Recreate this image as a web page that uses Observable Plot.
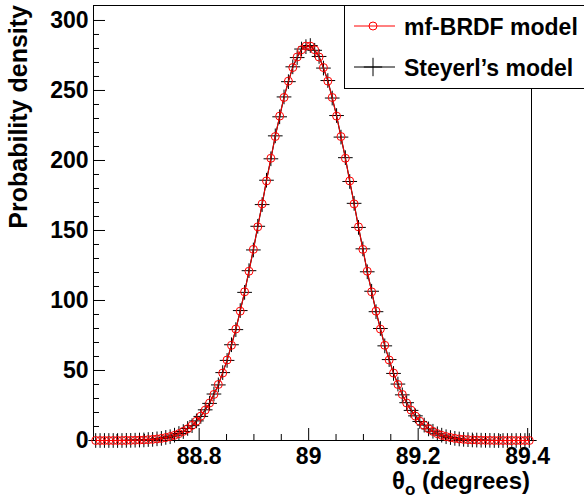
<!DOCTYPE html>
<html><head><meta charset="utf-8">
<script src="https://cdn.jsdelivr.net/npm/d3@7"></script>
<script src="https://cdn.jsdelivr.net/npm/@observablehq/plot@0.6"></script>
<style>body{margin:0;background:#fff} svg{display:block}</style>
</head><body><div id="chart"></div>
<script>
// bin centres of the outgoing angle θo (degrees)
const theta = [
88.611,88.619,88.627,88.635,88.643,88.651,88.659,88.667,88.675,88.683,
88.691,88.699,88.707,88.715,88.723,88.731,88.739,88.747,88.755,88.763,
88.771,88.779,88.787,88.795,88.803,88.811,88.819,88.827,88.835,88.843,
88.851,88.859,88.867,88.875,88.883,88.891,88.899,88.907,88.915,88.923,
88.931,88.939,88.947,88.955,88.963,88.971,88.979,88.987,88.995,89.003,
89.011,89.019,89.027,89.035,89.043,89.051,89.059,89.067,89.075,89.083,
89.091,89.099,89.107,89.115,89.123,89.131,89.139,89.147,89.155,89.163,
89.171,89.179,89.187,89.195,89.203,89.211,89.219,89.227,89.235,89.243,
89.251,89.259,89.267,89.275,89.283,89.291,89.299,89.307,89.315,89.323,
89.331,89.339,89.347,89.355,89.363,89.371,89.379,89.387,89.395,89.403];

// mf-BRDF model probability density
const mfBRDF = [
0,0,0,0,0,0,0,0.1,0.1,0.2,
0.3,0.4,0.6,0.8,1.1,1.5,2.1,2.8,3.7,4.9,
6.5,8.4,10.8,13.8,17.4,21.7,26.8,32.9,40.0,48.2,
57.5,68.0,79.6,92.4,106.2,120.9,136.5,152.6,169.0,185.4,
201.6,217.1,231.7,245.0,256.7,266.4,273.9,279.1,281.7,281.7,
279.1,273.9,266.4,256.7,245.0,231.7,217.1,201.6,185.4,169.0,
152.6,136.5,120.9,106.2,92.4,79.6,68.0,57.5,48.2,40.0,
32.9,26.8,21.7,17.4,13.8,10.8,8.4,6.5,4.9,3.7,
2.8,2.1,1.5,1.1,0.8,0.6,0.4,0.3,0.2,0.1,
0.1,0,0,0,0,0,0,0,0,0];

// Steyerl's model probability density
const steyerl = [
0,0,0,0,0,0,0,0.1,0.1,0.2,
0.3,0.4,0.7,0.8,1.2,1.5,2.2,2.7,3.8,5.0,
6.4,8.6,10.6,14.0,17.2,21.9,26.5,33.2,39.7,48.5,
57.2,68.4,79.2,92.8,105.8,121.3,136.1,153.0,168.5,185.9,
201.2,217.6,231.2,245.4,256.3,266.9,273.5,279.6,281.3,282.1,
278.7,274.3,266.0,257.1,244.6,232.1,216.7,202.0,185.0,169.4,
152.2,136.9,120.5,106.6,92.0,80.0,67.6,57.8,47.9,40.3,
32.6,27.0,21.5,17.6,13.6,11.0,8.3,6.6,4.8,3.8,
2.7,2.1,1.5,1.1,0.8,0.6,0.4,0.3,0.2,0.1,
0.1,0,0,0,0,0,0,0,0,0];

const yMajorTicks = [0,50,100,150,200,250,300];
const yMinorTicks = [10,20,30,40,60,70,80,90,110,120,130,140,160,170,180,190,210,220,230,240,260,270,280,290];
const xMajorTicks = [88.8,89,89.2,89.4];
const xMinorTicks = [88.65,88.7,88.75,88.85,88.9,88.95,89.05,89.1,89.15,89.25,89.3,89.35];
const xLabel = ["θ","o"," (degrees)"];
const yLabel = "Probability density";
const legendLabels = ["mf-BRDF model","Steyerl’s model"];

const red = theta.map((t,i)=>({t, v: mfBRDF[i]}));
const blk = theta.map((t,i)=>({t, v: steyerl[i]}));

const W = 584, H = 499, mL = 93, mR = 53, mT = 5, mB = 59;
const pw = W - mL - mR, ph = H - mT - mB;
const FONT = "'Liberation Sans', Arial, Helvetica, sans-serif";

const svg = Plot.plot({
  width: W, height: H,
  marginLeft: mL, marginRight: mR, marginTop: mT, marginBottom: mB,
  style: {fontFamily: FONT, fontWeight: "bold", fontSize: "23px", background: "#fff"},
  x: {domain: [88.607, 89.407]},
  y: {domain: [0, 310.7]},
  marks: [
    Plot.tickY(yMajorTicks, {y: d=>d, stroke: "black", insetRight: pw - 12}),
    Plot.tickY(yMinorTicks, {y: d=>d, stroke: "black", insetRight: pw - 6}),
    Plot.tickX(xMajorTicks, {x: d=>d, stroke: "black", insetTop: ph - 12}),
    Plot.tickX(xMinorTicks, {x: d=>d, stroke: "black", insetTop: ph - 6}),
    Plot.axisY({ticks: yMajorTicks, tickSize: 0, tickPadding: 5, label: null, fontSize: 23, fontWeight: "bold", tickFormat: d=>String(d)}),
    Plot.axisX({ticks: xMajorTicks, tickSize: 0, tickPadding: 7, label: null, fontSize: 23, fontWeight: "bold", tickFormat: d=>String(d)}),
    Plot.frame({stroke: "black", strokeWidth: 1}),
    Plot.line(blk, {x: "t", y: "v", stroke: "black", strokeWidth: 1.2}),
    Plot.dot(blk, {x: "t", y: "v", symbol: "plus", r: 4.8, stroke: "black", strokeWidth: 1}),
    Plot.line(red, {x: "t", y: "v", stroke: "#ff0000", strokeWidth: 1}),
    Plot.dot(red, {x: "t", y: "v", symbol: "circle", r: 4, stroke: "#ff0000", fill: "none", strokeWidth: 1})
  ]
});

const s = d3.select(svg);
// axis titles
s.append("text")
  .attr("transform", "translate(27,5) rotate(-90)")
  .attr("text-anchor", "end")
  .style("font-family", FONT).style("font-weight", "bold").style("font-size", "25px")
  .attr("fill", "black")
  .text(yLabel);
const xt = s.append("text")
  .attr("x", 530).attr("y", 489)
  .attr("text-anchor", "end")
  .style("font-family", FONT).style("font-weight", "bold").style("font-size", "24px")
  .attr("fill", "black");
xt.append("tspan").text(xLabel[0]);
xt.append("tspan").attr("dy", 6).style("font-size", "17px").text(xLabel[1]);
xt.append("tspan").attr("dy", -6).text(xLabel[2]);

// legend
const lg = s.append("g");
lg.append("rect").attr("x", 344.5).attr("y", 5.5).attr("width", 260).attr("height", 83)
  .attr("fill", "white").attr("stroke", "black").attr("stroke-width", 1);
const rows = [
  {y: 26, color: "#ff0000", sym: d3.symbolCircle, size: Math.PI*16},
  {y: 67, color: "black", sym: d3.symbolPlus, size: Math.PI*4.8*4.8*1.55}
];
rows.forEach((r, i) => {
  lg.append("line").attr("x1", 354).attr("x2", 395).attr("y1", r.y).attr("y2", r.y)
    .attr("stroke", r.color).attr("stroke-width", 1);
  lg.append("path").attr("d", d3.symbol(r.sym, r.size)())
    .attr("transform", `translate(373,${r.y})`)
    .attr("fill", "none").attr("stroke", r.color).attr("stroke-width", 1);
  lg.append("text").attr("x", 404).attr("y", r.y + 9)
    .attr("text-anchor", "start")
    .style("font-family", FONT).style("font-weight", "bold").style("font-size", "23px")
    .attr("fill", "black").text(legendLabels[i]);
});

document.getElementById("chart").appendChild(svg);
</script>
</body></html>
